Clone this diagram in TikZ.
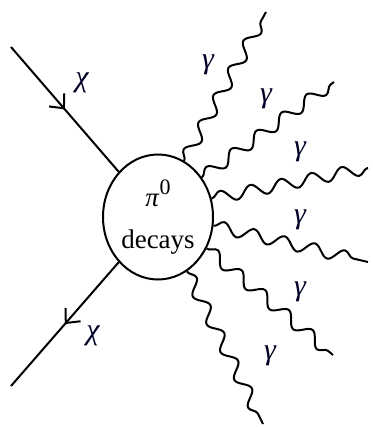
\documentclass[tikz,border=0pt]{standalone}
\usepackage{fontspec}
\setmainfont{Liberation Serif}
\usetikzlibrary{arrows.meta,decorations.pathmorphing,decorations.markings,shapes.geometric}
\tikzset{
  blob/.style={draw=black, line width=2pt, ellipse, minimum width=110pt, minimum height=125pt,
    inner sep=0pt, align=center, font=\fontsize{27}{42}\selectfont},
  fermion/.style={line width=2pt, postaction={decorate},
    decoration={markings, mark=at position 0.5 with {\arrow{Straight Barb[length=11pt,width=20pt]}}}},
  photon/.style={line width=2pt, decorate, decoration={snake, segment length=31pt, amplitude=6pt}},
  lbl/.style={font=\fontsize{30}{34}\selectfont\itshape, text=black!85!blue, inner sep=0pt}
}

\begin{document}
\begin{tikzpicture}[x=1pt, y=-1pt]
  \useasboundingbox (0,0) rectangle (372,427);

  \node[blob] (decay) at (158,217) {\textit{π}\raisebox{0.42em}{\fontsize{22}{22}\selectfont 0}\\decays};

  % incoming and outgoing chi
  \coordinate (chiin) at (11,47);
  \coordinate (chiout) at (11,386);
  \draw[fermion] (chiin) -- (decay.131);
  \draw[fermion] (decay.229) -- (chiout);
  \node[lbl] (chiinlbl) at (82,83) {χ};
  \node[lbl] (chioutlbl) at (93,336) {χ};

  % photons
  \coordinate (g1) at (266,12);
  \coordinate (g2) at (334,82);
  \coordinate (g3) at (368,168);
  \coordinate (g4) at (368,262);
  \coordinate (g5) at (333,355);
  \coordinate (g6) at (263,424);
  \draw[photon] (decay.65) -- (g1);
  \draw[photon] (decay.42) -- (g2);
  \draw[photon] (decay.19) -- (g3);
  \draw[photon] (decay.-9) -- (g4);
  \draw[photon] (decay.-33) -- (g5);
  \draw[photon] (decay.-62) -- (g6);

  \node[lbl] (g1lbl) at (208,65) {γ};
  \node[lbl] (g2lbl) at (266,99) {γ};
  \node[lbl] (g3lbl) at (300,152) {γ};
  \node[lbl] (g4lbl) at (300,220) {γ};
  \node[lbl] (g5lbl) at (300,292) {γ};
  \node[lbl] (g6lbl) at (270,356) {γ};
\end{tikzpicture}
\end{document}
